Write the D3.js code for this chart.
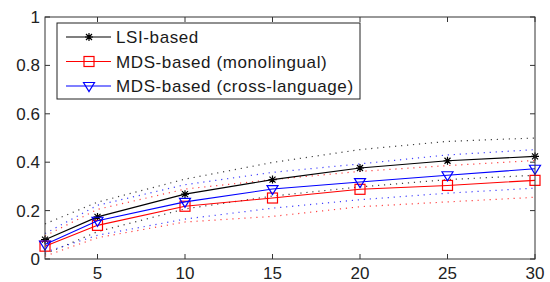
<!DOCTYPE html>
<html lang="en">
<head>
  <meta charset="UTF-8" />
  <title>LSI vs MDS</title>
  <script src="https://cdn.jsdelivr.net/npm/d3@7"></script>
  <style>
    body { margin: 0; background: #fff; }
    svg { font-family: "Liberation Sans", Arial, sans-serif; }
    .mean-line { fill: none; stroke-width: 1.1px; }
    .bound-line { fill: none; stroke-width: 1.2px; stroke-dasharray: 1.2, 4.8; opacity: 0.75; }
    .tick-label { font-size: 17px; fill: #222; }
    .legend-text { font-size: 17px; fill: #1a1a1a; letter-spacing: 0.6px; }
  </style>
</head>
<body>
  <script>
    var w = 550;
    var h = 282;
    var margin = { top: 17, right: 15, bottom: 23, left: 45 };

    var xValues = [2, 5, 10, 15, 20, 25, 30];
    var xTicks = [5, 10, 15, 20, 25, 30];
    var yTicks = [0, 0.2, 0.4, 0.6, 0.8, 1];
    var yTickLabels = ["0", "0.2", "0.4", "0.6", "0.8", "1"];

    var seriesNames = ["LSI-based", "MDS-based (monolingual)", "MDS-based (cross-language)"];
    var seriesColors = ["#000000", "#ff0000", "#0000ff"];

    // mean values
    var lsiMean = [0.080, 0.174, 0.268, 0.328, 0.376, 0.406, 0.424];
    var monoMean = [0.053, 0.139, 0.218, 0.252, 0.288, 0.304, 0.325];
    var crossMean = [0.060, 0.158, 0.236, 0.289, 0.318, 0.346, 0.373];

    // dotted upper / lower bounds
    var lsiUpper = [0.145, 0.235, 0.330, 0.399, 0.452, 0.486, 0.500];
    var lsiLower = [0.020, 0.113, 0.207, 0.260, 0.298, 0.328, 0.346];
    var monoUpper = [0.095, 0.205, 0.289, 0.328, 0.362, 0.386, 0.407];
    var monoLower = [0.012, 0.088, 0.153, 0.176, 0.216, 0.236, 0.255];
    var crossUpper = [0.105, 0.222, 0.307, 0.358, 0.393, 0.430, 0.452];
    var crossLower = [0.028, 0.098, 0.165, 0.210, 0.245, 0.272, 0.293];

    var means = [lsiMean, monoMean, crossMean];
    var uppers = [lsiUpper, monoUpper, crossUpper];
    var lowers = [lsiLower, monoLower, crossLower];

    var pw = w - margin.left - margin.right;
    var ph = h - margin.top - margin.bottom;

    var svg = d3.select("body").append("svg")
      .attr("width", w)
      .attr("height", h);

    var xScale = d3.scaleLinear().domain([2, 30]).range([0, pw]);
    var yScale = d3.scaleLinear().domain([0, 1]).range([ph, 0]);

    var g = svg.append("g")
      .attr("transform", "translate(" + margin.left + "," + margin.top + ")");

    var line = d3.line()
      .x(function(d, i) { return xScale(xValues[i]); })
      .y(function(d) { return yScale(d); });

    // dotted bounds
    for (var s = 0; s < 3; s++) {
      g.append("path").datum(uppers[s])
        .attr("class", "bound-line")
        .attr("stroke", seriesColors[s])
        .attr("d", line);
      g.append("path").datum(lowers[s])
        .attr("class", "bound-line")
        .attr("stroke", seriesColors[s])
        .attr("d", line);
    }

    function drawMarker(sel, type, color) {
      if (type == 0) {
        // star
        sel.append("path")
          .attr("d", "M-4,0H4M0,-4V4M-3,-3L3,3M-3,3L3,-3")
          .attr("stroke", color).attr("stroke-width", 1.2).attr("fill", "none");
      } else if (type == 1) {
        sel.append("rect")
          .attr("x", -5).attr("y", -5).attr("width", 10).attr("height", 10)
          .attr("stroke", color).attr("stroke-width", 1.2).attr("fill", "none");
      } else {
        sel.append("path")
          .attr("d", "M-5.5,-3.5L5.5,-3.5L0,5.5Z")
          .attr("stroke", color).attr("stroke-width", 1.2).attr("fill", "none");
      }
    }

    // mean lines + markers
    for (var s = 0; s < 3; s++) {
      g.append("path").datum(means[s])
        .attr("class", "mean-line")
        .attr("stroke", seriesColors[s])
        .attr("d", line);
      means[s].forEach(function(v, i) {
        var m = g.append("g")
          .attr("transform", "translate(" + xScale(xValues[i]) + "," + yScale(v) + ")");
        drawMarker(m, s, seriesColors[s]);
      });
    }

    // box and ticks
    g.append("rect")
      .attr("x", 0).attr("y", 0).attr("width", pw).attr("height", ph)
      .attr("fill", "none").attr("stroke", "#333").attr("stroke-width", 1);

    var tl = 5;
    xTicks.forEach(function(t) {
      var x = xScale(t);
      g.append("line").attr("x1", x).attr("x2", x).attr("y1", ph).attr("y2", ph - tl)
        .attr("stroke", "#333");
      g.append("line").attr("x1", x).attr("x2", x).attr("y1", 0).attr("y2", tl)
        .attr("stroke", "#333");
      g.append("text").attr("class", "tick-label")
        .attr("x", x).attr("y", ph + 20)
        .attr("text-anchor", "middle")
        .text(t);
    });

    yTicks.forEach(function(t, i) {
      var y = yScale(t);
      g.append("line").attr("x1", 0).attr("x2", tl).attr("y1", y).attr("y2", y)
        .attr("stroke", "#333");
      g.append("line").attr("x1", pw).attr("x2", pw - tl).attr("y1", y).attr("y2", y)
        .attr("stroke", "#333");
      g.append("text").attr("class", "tick-label")
        .attr("x", -5).attr("y", y + 6)
        .attr("text-anchor", "end")
        .text(yTickLabels[i]);
    });

    // legend
    var lg = svg.append("g").attr("transform", "translate(57,23)");
    lg.append("rect")
      .attr("x", 0).attr("y", 0).attr("width", 303).attr("height", 76)
      .attr("fill", "#fff").attr("stroke", "#222").attr("stroke-width", 1);

    seriesNames.forEach(function(name, i) {
      var cy = 14 + i * 24.5;
      lg.append("line")
        .attr("x1", 9).attr("x2", 54).attr("y1", cy).attr("y2", cy)
        .attr("stroke", seriesColors[i]).attr("stroke-width", 1.1);
      var m = lg.append("g").attr("transform", "translate(32," + cy + ")");
      drawMarker(m, i, seriesColors[i]);
      lg.append("text").attr("class", "legend-text")
        .attr("x", 59).attr("y", cy + 6)
        .text(name);
    });
  </script>
</body>
</html>
